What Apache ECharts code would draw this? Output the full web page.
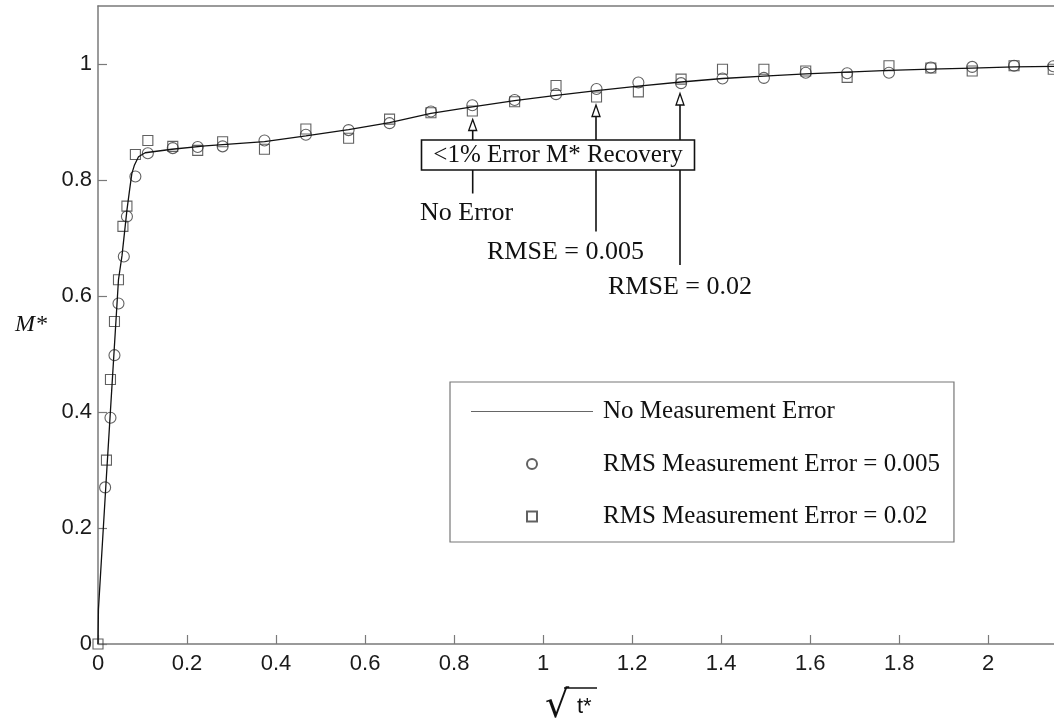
<!DOCTYPE html>
<html>
<head>
<meta charset="utf-8">
<script src="https://cdn.jsdelivr.net/npm/echarts@6/dist/echarts.min.js"></script>
<style>
  html, body { margin: 0; padding: 0; background: #ffffff; }
  #chart { width: 1054px; height: 728px; }
</style>
</head>
<body>
<div id="chart"></div>
<script>
// Recovered moisture ratio M* against the square root of dimensionless time t*

const seriesNames = [
  'No Measurement Error',
  'RMS Measurement Error = 0.005',
  'RMS Measurement Error = 0.02'
];

// reference curve (no measurement error)
const noErrX = [0, 0.001, 0.019, 0.046, 0.054, 0.065, 0.071, 0.076, 0.082, 0.091, 0.106, 0.166, 0.241, 0.28,
  0.374, 0.467, 0.563, 0.655, 0.748, 0.841, 0.936, 1.029, 1.12, 1.214, 1.31, 1.403, 1.496, 1.59, 1.683,
  1.777, 1.871, 1.964, 2.058, 2.15];
const noErrY = [0, 0.06, 0.29, 0.628, 0.67, 0.748, 0.783, 0.811, 0.826, 0.84, 0.847, 0.853, 0.859, 0.861,
  0.866, 0.876, 0.887, 0.899, 0.915, 0.926, 0.937, 0.946, 0.954, 0.962, 0.969, 0.975, 0.979, 0.983, 0.986,
  0.989, 0.991, 0.993, 0.995, 0.996];

// recovery with RMS error 0.005 (circles)
const rms005X = [0.016, 0.028, 0.037, 0.046, 0.058, 0.065, 0.084, 0.112, 0.168, 0.224, 0.28, 0.374, 0.467,
  0.563, 0.655, 0.748, 0.841, 0.936, 1.029, 1.12, 1.214, 1.31, 1.403, 1.496, 1.59, 1.683, 1.777, 1.871,
  1.964, 2.058, 2.146];
const rms005Y = [0.27, 0.39, 0.498, 0.587, 0.668, 0.737, 0.806, 0.846, 0.855, 0.857, 0.858, 0.868, 0.878,
  0.886, 0.898, 0.918, 0.929, 0.938, 0.948, 0.957, 0.968, 0.967, 0.975, 0.976, 0.985, 0.984, 0.985, 0.994,
  0.995, 0.997, 0.996];

// recovery with RMS error 0.02 (squares)
const rms02X = [0, 0.019, 0.028, 0.037, 0.046, 0.056, 0.065, 0.084, 0.112, 0.168, 0.224, 0.28, 0.374, 0.467,
  0.563, 0.655, 0.748, 0.841, 0.936, 1.029, 1.12, 1.214, 1.31, 1.403, 1.496, 1.59, 1.683, 1.777, 1.871,
  1.964, 2.058, 2.146];
const rms02Y = [0, 0.317, 0.456, 0.556, 0.628, 0.72, 0.755, 0.844, 0.868, 0.858, 0.851, 0.866, 0.853, 0.888,
  0.872, 0.905, 0.916, 0.919, 0.935, 0.963, 0.943, 0.952, 0.974, 0.991, 0.991, 0.988, 0.977, 0.997, 0.993,
  0.988, 0.997, 0.991];

// annotation texts
const boxText = '<1% Error M* Recovery';
const arrowLabels = ['No Error', 'RMSE = 0.005', 'RMSE = 0.02'];

const SERIF = "'Liberation Serif', 'Times New Roman', serif";
const SANS = "'Liberation Sans', Arial, sans-serif";
const pair = (xs, ys) => xs.map((x, i) => [x, ys[i]]);

const chart = echarts.init(document.getElementById('chart'), null, { renderer: 'canvas' });

const axisCommon = {
  axisLine: { show: true, lineStyle: { color: '#7a7a7a', width: 1.5 } },
  axisTick: { show: true, inside: true, length: 9, lineStyle: { color: '#7a7a7a', width: 1.2 } },
  splitLine: { show: false }
};

const hollow = (color) => ({ color: 'rgba(255,255,255,0)', borderColor: color, borderWidth: 1.1 });

// arrow helper: vertical shaft pieces and hollow head
function arrow(x, tip, headBase, segs) {
  const els = [{
    type: 'polygon', z: 30,
    shape: { points: [[x, tip], [x - 4, headBase], [x + 4, headBase]] },
    style: { fill: '#ffffff', stroke: '#111', lineWidth: 1.3 }
  }];
  segs.forEach(([a, b]) => els.push({
    type: 'line', z: 20, shape: { x1: x, y1: a, x2: x, y2: b },
    style: { stroke: '#111', lineWidth: 1.6 }
  }));
  return els;
}

const annotation = [
  ...arrow(472.7, 119.5, 130.5, [[130.5, 140], [170, 193.5]]),
  ...arrow(596, 105, 116.5, [[116.5, 140], [170, 231.5]]),
  ...arrow(680, 93.5, 105, [[105, 140], [170, 265]]),
  {
    type: 'rect', z: 25,
    shape: { x: 421.5, y: 140, width: 273, height: 30 },
    style: { fill: '#ffffff', stroke: '#111', lineWidth: 1.6 }
  },
  {
    type: 'text', z: 26, x: 558, y: 155.5,
    style: { text: boxText, font: '25px ' + SERIF, fill: '#111', align: 'center', verticalAlign: 'middle' }
  },
  {
    type: 'text', z: 26, x: 420, y: 213.5,
    style: { text: arrowLabels[0], font: '26px ' + SERIF, fill: '#111', align: 'left', verticalAlign: 'middle' }
  },
  {
    type: 'text', z: 26, x: 487, y: 252,
    style: { text: arrowLabels[1], font: '26px ' + SERIF, fill: '#111', align: 'left', verticalAlign: 'middle' }
  },
  {
    type: 'text', z: 26, x: 608, y: 287,
    style: { text: arrowLabels[2], font: '26px ' + SERIF, fill: '#111', align: 'left', verticalAlign: 'middle' }
  },
  // x-axis title: square root of t*
  {
    type: 'text', z: 26, x: 545, y: 707,
    style: { text: '\u221A', font: '38px ' + "'DejaVu Sans', sans-serif", fill: '#111', align: 'left', verticalAlign: 'middle' }
  },
  {
    type: 'line', z: 26, shape: { x1: 564, y1: 688, x2: 597, y2: 688 },
    style: { stroke: '#111', lineWidth: 1.3 }
  },
  {
    type: 'text', z: 26, x: 577, y: 707,
    style: { text: 't*', font: '22px ' + SANS, fill: '#111', align: 'left', verticalAlign: 'middle' }
  }
];

const option = {
  backgroundColor: '#ffffff',
  animation: false,
  grid: { left: 98, top: 6, width: 957, height: 638, containLabel: false, outerBoundsMode: 'none' },
  xAxis: [{
    type: 'value', min: 0, max: 2.15, interval: 0.2,
    ...axisCommon,
    axisLabel: { show: true, margin: 9, fontSize: 22, fontFamily: SANS, color: '#1a1a1a', showMaxLabel: false }
  }, {
    type: 'value', position: 'top', min: 0, max: 2.15, interval: 0.2,
    axisLine: { show: true, lineStyle: { color: '#7a7a7a', width: 1.5 } },
    axisTick: { show: false }, axisLabel: { show: false }, splitLine: { show: false }
  }],
  yAxis: {
    type: 'value', min: 0, max: 1.1, interval: 0.2,
    ...axisCommon,
    axisLabel: { show: true, margin: 6, fontSize: 22, fontFamily: SANS, color: '#1a1a1a', showMaxLabel: false },
    name: 'M*', nameLocation: 'middle', nameRotate: 0, nameGap: 51,
    nameTextStyle: { fontFamily: SERIF, fontStyle: 'italic', fontSize: 24, color: '#111', padding: [36, 0, 0, 0] }
  },
  legend: {
    orient: 'vertical', left: 450, top: 382,
    padding: [17, 14, 13, 21],
    itemWidth: 122, itemHeight: 10, itemGap: 27.5,
    borderColor: '#777', borderWidth: 1.2, backgroundColor: '#ffffff',
    textStyle: { fontFamily: SERIF, fontSize: 25, color: '#111', lineHeight: 25, padding: [0, 0, 0, 5] },
    selectedMode: false,
    data: [
      { name: seriesNames[0], icon: 'path://M0,0L120,0L120,1.2L0,1.2Z', itemStyle: { color: '#666', borderWidth: 0 } },
      { name: seriesNames[1] },
      { name: seriesNames[2], icon: 'path://M0,0L10,0L10,10L0,10Z' }
    ]
  },
  graphic: annotation,
  series: [
    {
      name: seriesNames[0], type: 'line', data: pair(noErrX, noErrY),
      symbol: 'none', smooth: false, z: 3,
      lineStyle: { color: '#111', width: 1.3 }, itemStyle: { color: '#111' }
    },
    {
      name: seriesNames[1], type: 'scatter', data: pair(rms005X, rms005Y),
      symbol: 'circle', symbolSize: 11, z: 2,
      itemStyle: hollow('#3a3a3a')
    },
    {
      name: seriesNames[2], type: 'scatter', data: pair(rms02X, rms02Y),
      symbol: 'rect', symbolSize: 10, z: 2,
      itemStyle: hollow('#3a3a3a')
    }
  ]
};

chart.setOption(option);
</script>
</body>
</html>
